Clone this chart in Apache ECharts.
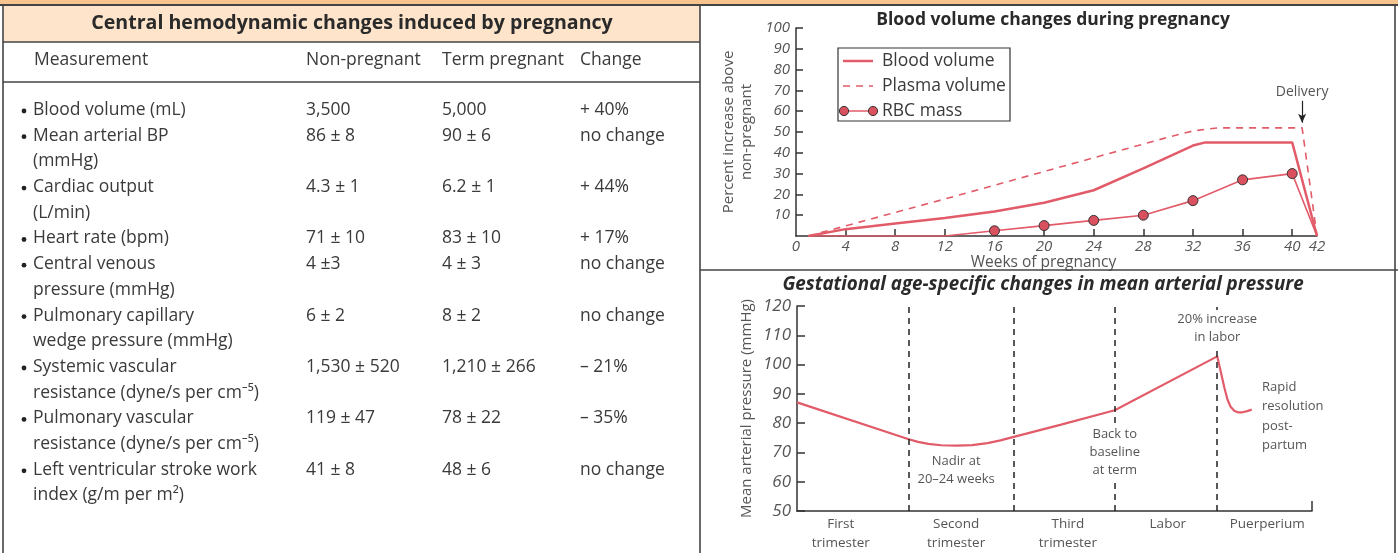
<!DOCTYPE html>
<html>
<head>
<meta charset="utf-8">
<script src="https://cdn.jsdelivr.net/npm/echarts@6/dist/echarts.min.js"></script>
<style>
  html, body { margin: 0; padding: 0; background: #fff; }
  #main { width: 1398px; height: 553px; }
</style>
</head>
<body>
<div id="main"></div>
<script>
// ---- Table: central hemodynamic changes ----
const tableTitle = 'Central hemodynamic changes induced by pregnancy';
const tableColumns = ['Measurement', 'Non-pregnant', 'Term pregnant', 'Change'];
const measurements = [
  ['Blood volume (mL)'],
  ['Mean arterial BP', '(mmHg)'],
  ['Cardiac output', '(L/min)'],
  ['Heart rate (bpm)'],
  ['Central venous', 'pressure (mmHg)'],
  ['Pulmonary capillary', 'wedge pressure (mmHg)'],
  ['Systemic vascular', 'resistance (dyne/s per cm⁻⁵)'],
  ['Pulmonary vascular', 'resistance (dyne/s per cm⁻⁵)'],
  ['Left ventricular stroke work', 'index (g/m per m²)']
];
const nonPregnant = ['3,500', '86 ± 8', '4.3 ± 1', '71 ± 10', '4 ±3', '6 ± 2', '1,530 ± 520', '119 ± 47', '41 ± 8'];
const termPregnant = ['5,000', '90 ± 6', '6.2 ± 1', '83 ± 10', '4 ± 3', '8 ± 2', '1,210 ± 266', '78 ± 22', '48 ± 6'];
const changes = ['+ 40%', 'no change', '+ 44%', '+ 17%', 'no change', 'no change', '– 21%', '– 35%', 'no change'];

// ---- Blood volume changes (percent above non-pregnant) ----
const bloodTitle = 'Blood volume changes during pregnancy';
const bloodWeeks = [1, 4, 8, 12, 16, 20, 24, 28, 32, 33, 40, 42];
const bloodVolume = [0, 3.3, 6, 8.7, 11.8, 16, 22, 32.5, 43.5, 45, 45, 0];
const plasmaWeeks = [1, 12, 20, 30, 32, 34, 40.8, 42];
const plasmaVolume = [0, 17.8, 31, 47.5, 50.5, 52, 52, 0];
const rbcWeeks = [1, 12, 16, 20, 24, 28, 32, 36, 40, 42];
const rbcMass = [0, 0, 2.5, 5, 7.5, 10, 17, 27, 30, 0];
const rbcMeasured = [false, false, true, true, true, true, true, true, true, false];
const weekTicks = [4, 8, 12, 16, 20, 24, 28, 32, 36, 40];
const weekLabels = [0, 4, 8, 12, 16, 20, 24, 28, 32, 36, 40, 42];
const deliveryWeek = 40.8;
const legendNames = ['Blood volume', 'Plasma volume', 'RBC mass'];

// ---- Mean arterial pressure across gestation (timeline 0–100) ----
const mapTitle = 'Gestational age-specific changes in mean arterial pressure';
const phaseNames = ['First\ntrimester', 'Second\ntrimester', 'Third\ntrimester', 'Labor', 'Puerperium'];
const phaseCenters = [8.5, 30.9, 52.6, 72.0, 91.3];
const phaseBounds = [21.7, 42.1, 61.7, 81.6];
const mapTime = [0, 21.7, 23.5, 25.5, 28, 31, 34, 37, 39.5, 42.1, 51.1, 61.7, 81.6, 82.3, 83.0, 83.6, 84.2, 84.9, 85.6, 86.5, 87.4, 88.3];
const mapValue = [87.1, 74.5, 73.6, 72.9, 72.45, 72.3, 72.5, 73.2, 74.1, 75.3, 79.4, 84.4, 102.8, 97.5, 92, 88, 85.6, 84.2, 83.7, 83.7, 84.1, 84.6];

const RED = '#e25b69';
const DOT = '#d9505f';
const INK = '#333';
const GREY = '#555';
const FONT = '"Open Sans", "Noto Sans", sans-serif';

const zip = (xs, ys) => xs.map((x, i) => [x, ys[i]]);

const chart = echarts.init(document.getElementById('main'), null, { renderer: 'canvas' });

// Grid geometry for the two right-hand charts
const G1 = { left: 796, top: 28, width: 521, height: 208 };
const G2 = { left: 797, top: 306, width: 515, height: 206 };
const mapX = t => G2.left + t / 100 * G2.width;

const graphics = [];
function txt(text, x, y, opt) {
  graphics.push({
    type: 'text', z: 10, silent: true,
    style: Object.assign({
      text, x, y,
      fill: INK,
      fontFamily: FONT, fontSize: 16,
      align: 'left', verticalAlign: 'middle'
    }, opt || {})
  });
}
function seg(x1, y1, x2, y2, style, z) {
  graphics.push({ type: 'line', z: z || 5, silent: true,
    shape: { x1, y1, x2, y2 },
    style: Object.assign({ stroke: '#444', lineWidth: 1.6 }, style || {}) });
}

// Frame and header fills
graphics.push({ type: 'rect', z: 1, silent: true, shape: { x: 0, y: 0, width: 1398, height: 5 }, style: { fill: '#f7c48d' } });
graphics.push({ type: 'rect', z: 1, silent: true, shape: { x: 3, y: 5, width: 697, height: 37 }, style: { fill: '#fde4ca' } });
seg(0, 5, 1398, 5, { lineWidth: 2 });
seg(3, 42, 700, 42);
seg(3, 82, 700, 82);
seg(3, 5, 3, 553);
seg(700, 5, 700, 553);
seg(1395, 5, 1395, 553);
seg(700, 270, 1398, 270);

// Table text
const TABLE_FONT = 17.5;
txt(tableTitle, 352, 23, { fontSize: 19.6, fontWeight: 'bold', align: 'center', fill: '#2a2a2a' });
const colX = [34, 306, 442, 580];
tableColumns.forEach((c, i) => txt(c, colX[i], 60, { fontSize: TABLE_FONT, fill: '#3a3a3a' }));
const ROW_Y0 = 110, ROW_STEP = 25.7;
let lineNo = 0;
measurements.forEach((lines, i) => {
  const y = ROW_Y0 + lineNo * ROW_STEP;
  graphics.push({ type: 'circle', z: 10, silent: true, shape: { cx: 24, cy: y + 1, r: 2.4 }, style: { fill: '#222' } });
  lines.forEach((t, k) => txt(t, 33, y + k * ROW_STEP, { fontSize: TABLE_FONT, fill: '#3a3a3a' }));
  txt(nonPregnant[i], colX[1], y, { fontSize: TABLE_FONT, fill: '#3a3a3a' });
  txt(termPregnant[i], colX[2], y, { fontSize: TABLE_FONT, fill: '#3a3a3a' });
  txt(changes[i], colX[3], y, { fontSize: TABLE_FONT, fill: '#3a3a3a' });
  lineNo += lines.length;
});

// Chart titles
txt(bloodTitle, 1053, 20, { fontSize: 17.5, fontWeight: 'bold', align: 'center', fill: '#2a2a2a' });
txt(mapTitle, 1043, 285, { fontSize: 18.8, fontWeight: 'bold', fontStyle: 'italic', align: 'center', fill: '#2a2a2a' });

// Legend box for the blood volume chart
graphics.push({ type: 'rect', z: 6, silent: true, shape: { x: 838, y: 48, width: 172, height: 73 }, style: { fill: '#fff', stroke: '#333', lineWidth: 1.2 } });
const legY = [61, 86, 111];
seg(843, legY[0], 873, legY[0], { stroke: RED, lineWidth: 2.5 }, 8);
seg(843, legY[1], 873, legY[1], { stroke: RED, lineWidth: 1.6, lineDash: [7, 6] }, 8);
seg(843, legY[2], 873, legY[2], { stroke: RED, lineWidth: 1.5 }, 8);
[844, 873].forEach(cx => graphics.push({ type: 'circle', z: 9, silent: true, shape: { cx, cy: legY[2], r: 4.6 }, style: { fill: DOT, stroke: '#333', lineWidth: 1 } }));
legendNames.forEach((n, i) => txt(n, 882, legY[i], { fontSize: 17.5, fill: '#3a3a3a' }));

// Annotations on the mean arterial pressure chart
const note = { fontSize: 13, fill: GREY, align: 'center', verticalAlign: 'top', lineHeight: 18, backgroundColor: '#fff', padding: [0, 2] };
txt('20% increase\nin labor', mapX(phaseBounds[3]), 310, note);
txt('Nadir at\n20–24 weeks', mapX(30.9), 452, note);
txt('Back to\nbaseline\nat term', mapX(phaseBounds[2]), 425, note);
txt('Rapid\nresolution\npost-\npartum', 1260, 377, Object.assign({}, note, { align: 'left', lineHeight: 19.6, backgroundColor: null }));

const axisLineStyle = { color: '#333', width: 1.5 };

chart.setOption({
  animation: false,
  graphic: graphics,
  grid: [
    Object.assign({ containLabel: false }, G1),
    Object.assign({ containLabel: false }, G2)
  ],
  xAxis: [
    {
      type: 'value', gridIndex: 0, min: 0, max: 42,
      axisLine: { lineStyle: axisLineStyle },
      axisTick: { inside: true, length: 7, customValues: weekTicks, lineStyle: axisLineStyle },
      axisLabel: { customValues: weekLabels, fontSize: 15, fontStyle: 'italic', color: GREY, fontFamily: FONT, margin: 3 },
      splitLine: { show: false },
      name: 'Weeks of pregnancy', nameLocation: 'middle', nameGap: 15,
      nameTextStyle: { fontSize: 15.5, color: GREY, fontFamily: FONT, padding: [0, 26, 0, 0] }
    },
    {
      type: 'value', gridIndex: 1, min: 0, max: 100,
      axisLine: { lineStyle: axisLineStyle },
      axisTick: { inside: true, length: 10, customValues: [100], lineStyle: axisLineStyle },
      axisLabel: {
        customValues: phaseCenters, fontSize: 13.5, color: GREY, fontFamily: FONT, margin: 4, lineHeight: 19,
        formatter: v => phaseNames[phaseCenters.indexOf(v)] || ''
      },
      splitLine: { show: false }
    }
  ],
  yAxis: [
    {
      type: 'value', gridIndex: 0, min: 0, max: 100, interval: 10,
      axisLine: { show: true, lineStyle: axisLineStyle },
      axisTick: { show: true, inside: true, length: 7, lineStyle: axisLineStyle },
      axisLabel: { showMinLabel: false, fontSize: 15, fontStyle: 'italic', color: GREY, fontFamily: FONT, margin: 6 },
      splitLine: { show: false },
      name: 'Percent increase above\nnon-pregnant', nameLocation: 'middle', nameGap: 40,
      nameTextStyle: { fontSize: 15, color: GREY, fontFamily: FONT, lineHeight: 18 }
    },
    {
      type: 'value', gridIndex: 1, min: 50, max: 120, interval: 10,
      axisLine: { show: true, lineStyle: axisLineStyle },
      axisTick: { show: true, inside: true, length: 8, lineStyle: axisLineStyle },
      axisLabel: { fontSize: 17, fontStyle: 'italic', color: GREY, fontFamily: FONT, margin: 6 },
      splitLine: { show: false },
      name: 'Mean arterial pressure (mmHg)', nameLocation: 'middle', nameGap: 43,
      nameTextStyle: { fontSize: 15, color: GREY, fontFamily: FONT }
    }
  ],
  series: [
    {
      name: legendNames[0], type: 'line', xAxisIndex: 0, yAxisIndex: 0,
      data: zip(bloodWeeks, bloodVolume), symbol: 'none', z: 4,
      lineStyle: { color: RED, width: 2.5 }
    },
    {
      name: legendNames[1], type: 'line', xAxisIndex: 0, yAxisIndex: 0,
      data: zip(plasmaWeeks, plasmaVolume), symbol: 'none', z: 3,
      lineStyle: { color: RED, width: 1.6, type: [7, 6] },
      markLine: {
        silent: true, animation: false,
        symbol: ['none', 'arrow'], symbolSize: [6, 9],
        lineStyle: { color: '#222', width: 1.2, type: 'solid' },
        label: { show: true, position: 'start', formatter: 'Delivery', color: GREY, fontSize: 14, fontFamily: FONT, distance: 2 },
        data: [[{ coord: [deliveryWeek, 65] }, { coord: [deliveryWeek, 54.5] }]]
      }
    },
    {
      name: legendNames[2], type: 'line', xAxisIndex: 0, yAxisIndex: 0, z: 5,
      data: rbcWeeks.map((w, i) => ({ value: [w, rbcMass[i]], symbol: rbcMeasured[i] ? 'circle' : 'none' })),
      showAllSymbol: true, symbolSize: 10,
      itemStyle: { color: DOT, borderColor: '#333', borderWidth: 1 },
      lineStyle: { color: RED, width: 1.6 }
    },
    {
      name: 'Mean arterial pressure', type: 'line', xAxisIndex: 1, yAxisIndex: 1, z: 4,
      data: zip(mapTime, mapValue), symbol: 'none',
      lineStyle: { color: RED, width: 2.2 },
      markLine: {
        silent: true, animation: false, symbol: 'none',
        lineStyle: { color: '#222', width: 1.5, type: [6, 5] },
        label: { show: false },
        data: phaseBounds.map(b => ({ xAxis: b }))
      }
    }
  ]
});
</script>
</body>
</html>
